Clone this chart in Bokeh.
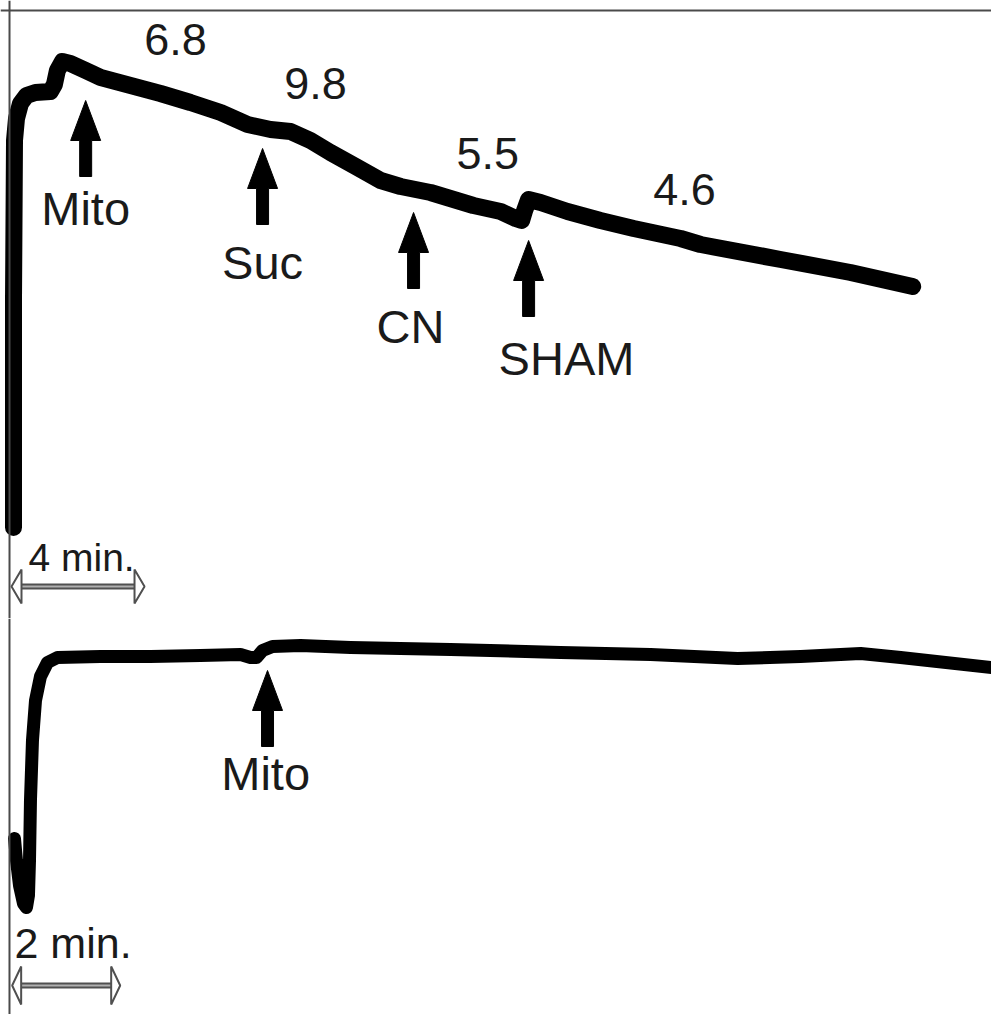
from bokeh.plotting import figure
from bokeh.layouts import column
from bokeh.models import Range1d, Span
from bokeh.core.properties import value
from bokeh.embed import file_html
from bokeh.resources import INLINE

# ---------------- data ----------------
# Top trace (time in min, O2 signal in arbitrary units)
top_t = [0.00, 0.00, 0.03, 0.09, 0.21, 0.39, 0.66, 1.11, 1.23, 1.32, 1.47, 1.71, 2.17,
         2.62, 3.52, 4.42, 5.32, 6.23, 7.04, 7.73, 8.33, 8.93, 9.53, 10.29, 11.04,
         11.64, 12.54, 13.83, 14.65, 15.10, 15.28, 15.37, 15.49, 15.85, 16.66, 17.65,
         18.65, 20.06, 20.66, 23.07, 25.17, 27.04]
top_v = [18.2, 63.6, 95.6, 100.0, 103.0, 104.6, 105.2, 105.4, 106.8, 109.6, 111.4, 111.0,
         109.6, 108.2, 106.6, 105.0, 103.2, 101.2, 98.8, 97.8, 97.4, 95.6, 93.2, 90.4,
         87.6, 86.4, 85.2, 82.6, 81.4, 80.0, 79.6, 81.6, 83.8, 83.2, 81.4, 79.6,
         78.0, 76.0, 74.8, 71.8, 69.2, 66.4]

top_events = ["Mito", "Suc", "CN", "SHAM"]
top_event_t = [2.17, 7.49, 12.03, 15.49]
top_event_tip = [103.6, 94.0, 81.2, 75.6]
top_label_t = [2.17, 7.49, 11.94, 16.63]
top_label_v = [82.0, 71.2, 58.4, 52.0]

rates = ["6.8", "9.8", "5.5", "4.6"]
rate_t = [4.87, 9.08, 14.26, 20.18]
rate_v = [115.8, 107.0, 93.0, 85.8]

# Bottom trace
bot_t = [0.000, 0.037, 0.093, 0.167, 0.222, 0.259, 0.278, 0.296, 0.333, 0.389, 0.481,
         0.611, 0.796, 1.593, 2.519, 3.444, 4.185, 4.370, 4.481, 4.593, 4.778, 5.296,
         6.222, 8.074, 10.111, 11.778, 13.389, 14.556, 15.667, 16.407, 18.093]
bot_v = [33.6, 29.2, 24.2, 20.6, 19.8, 22.2, 29.2, 41.2, 53.2, 61.2, 66.0,
         68.8, 69.8, 70.0, 70.0, 70.2, 70.4, 69.8, 69.8, 71.2, 72.0, 72.2,
         71.8, 71.4, 70.8, 70.4, 69.6, 70.0, 70.6, 69.8, 67.8]

bot_events = ["Mito"]
bot_event_t = [4.685]
bot_event_tip = [67.2]
bot_label_t = [4.65]
bot_label_v = [46.6]

# scale bars
top_bar_len = 4.0
bot_bar_len = 2.0

FONT = "Liberation Sans"
TXT = "#1a1a1a"
W = 991
H_TOP = 618
H_BOT = 396


def make_fig(h, xr, yr):
    p = figure(width=W, height=h, x_range=Range1d(*xr), y_range=Range1d(*yr),
               output_backend="svg", toolbar_location=None, min_border=0,
               outline_line_color=None, background_fill_color="white",
               border_fill_color="white")
    p.xaxis.visible = False
    p.yaxis.visible = False
    p.xgrid.visible = False
    p.ygrid.visible = False
    return p


def up_arrows(p, xs, tips, sx, sy, head_w=30, head_l=40, shaft_w=12, length=76):
    pxs, pys = [], []
    for x, tip in zip(xs, tips):
        hw = head_w / 2 / sx
        sw = shaft_w / 2 / sx
        hl = head_l / sy
        L = length / sy
        pxs.append([x, x - hw, x - sw, x - sw, x + sw, x + sw, x + hw])
        pys.append([tip, tip - hl, tip - hl, tip - L, tip - L, tip - hl, tip - hl])
    p.patches(pxs, pys, fill_color="black", line_color="black", line_width=1)


def scale_bar(p, x0, length, y, sx, sy, head_l, head_h):
    x1 = x0 + length
    hl = head_l / sx
    hh = head_h / sy
    p.line([x0 + hl, x1 - hl], [y, y], line_color="#505050", line_width=6)
    p.line([x0 + hl, x1 - hl], [y, y], line_color="#b0b0b0", line_width=2)
    p.patches([[x0, x0 + hl, x0 + hl], [x1, x1 - hl, x1 - hl]],
              [[y, y + hh, y - hh], [y, y + hh, y - hh]],
              fill_color="white", line_color="#505050", line_width=2)


# ---------------- top panel ----------------
txr = (-0.391, 29.41)
tyr = (0, 123.6)
top = make_fig(H_TOP, txr, tyr)
tsx = W / (txr[1] - txr[0])
tsy = H_TOP / (tyr[1] - tyr[0])

top.add_layout(Span(location=121.6, dimension="width", line_color="#4a4a4a", line_width=2))
top.add_layout(Span(location=-0.120, dimension="height", line_color="#4a4a4a", line_width=2))

top.line(top_t, top_v, line_color="black", line_width=17, line_join="round", line_cap="round")
up_arrows(top, top_event_t, top_event_tip, tsx, tsy)
top.text(top_label_t, top_label_v, text=top_events, text_font=value(FONT),
         text_font_size="47px", text_color=TXT, text_align="center",
         text_baseline="alphabetic")
top.text(rate_t, rate_v, text=rates, text_font=value(FONT), text_font_size="45px",
         text_color=TXT, text_align="center", text_baseline="alphabetic")
top.text([0.45], [12.2], text=["4 min."], text_font=value(FONT), text_font_size="39px",
         text_color=TXT, text_align="left", text_baseline="alphabetic")
scale_bar(top, -0.06, top_bar_len, 6.4, tsx, tsy, 10, 17)

# ---------------- bottom panel ----------------
bxr = (-0.259, 18.09)
byr = (-1.6, 77.6)
bot = make_fig(H_BOT, bxr, byr)
bsx = W / (bxr[1] - bxr[0])
bsy = H_BOT / (byr[1] - byr[0])

bot.add_layout(Span(location=-0.0926, dimension="height", line_color="#4a4a4a", line_width=2))

bot.line(bot_t, bot_v, line_color="black", line_width=13, line_join="round", line_cap="round")
up_arrows(bot, bot_event_t, bot_event_tip, bsx, bsy)
bot.text(bot_label_t, bot_label_v, text=bot_events, text_font=value(FONT),
         text_font_size="47px", text_color=TXT, text_align="center",
         text_baseline="alphabetic")
bot.text([0.0], [12.8], text=["2 min."], text_font=value(FONT), text_font_size="43px",
         text_color=TXT, text_align="left", text_baseline="alphabetic")
scale_bar(bot, -0.043, bot_bar_len, 4.2, bsx, bsy, 9, 19)

layout = column(top, bot, spacing=0)
open("out.html", "w").write(file_html(layout, INLINE))
